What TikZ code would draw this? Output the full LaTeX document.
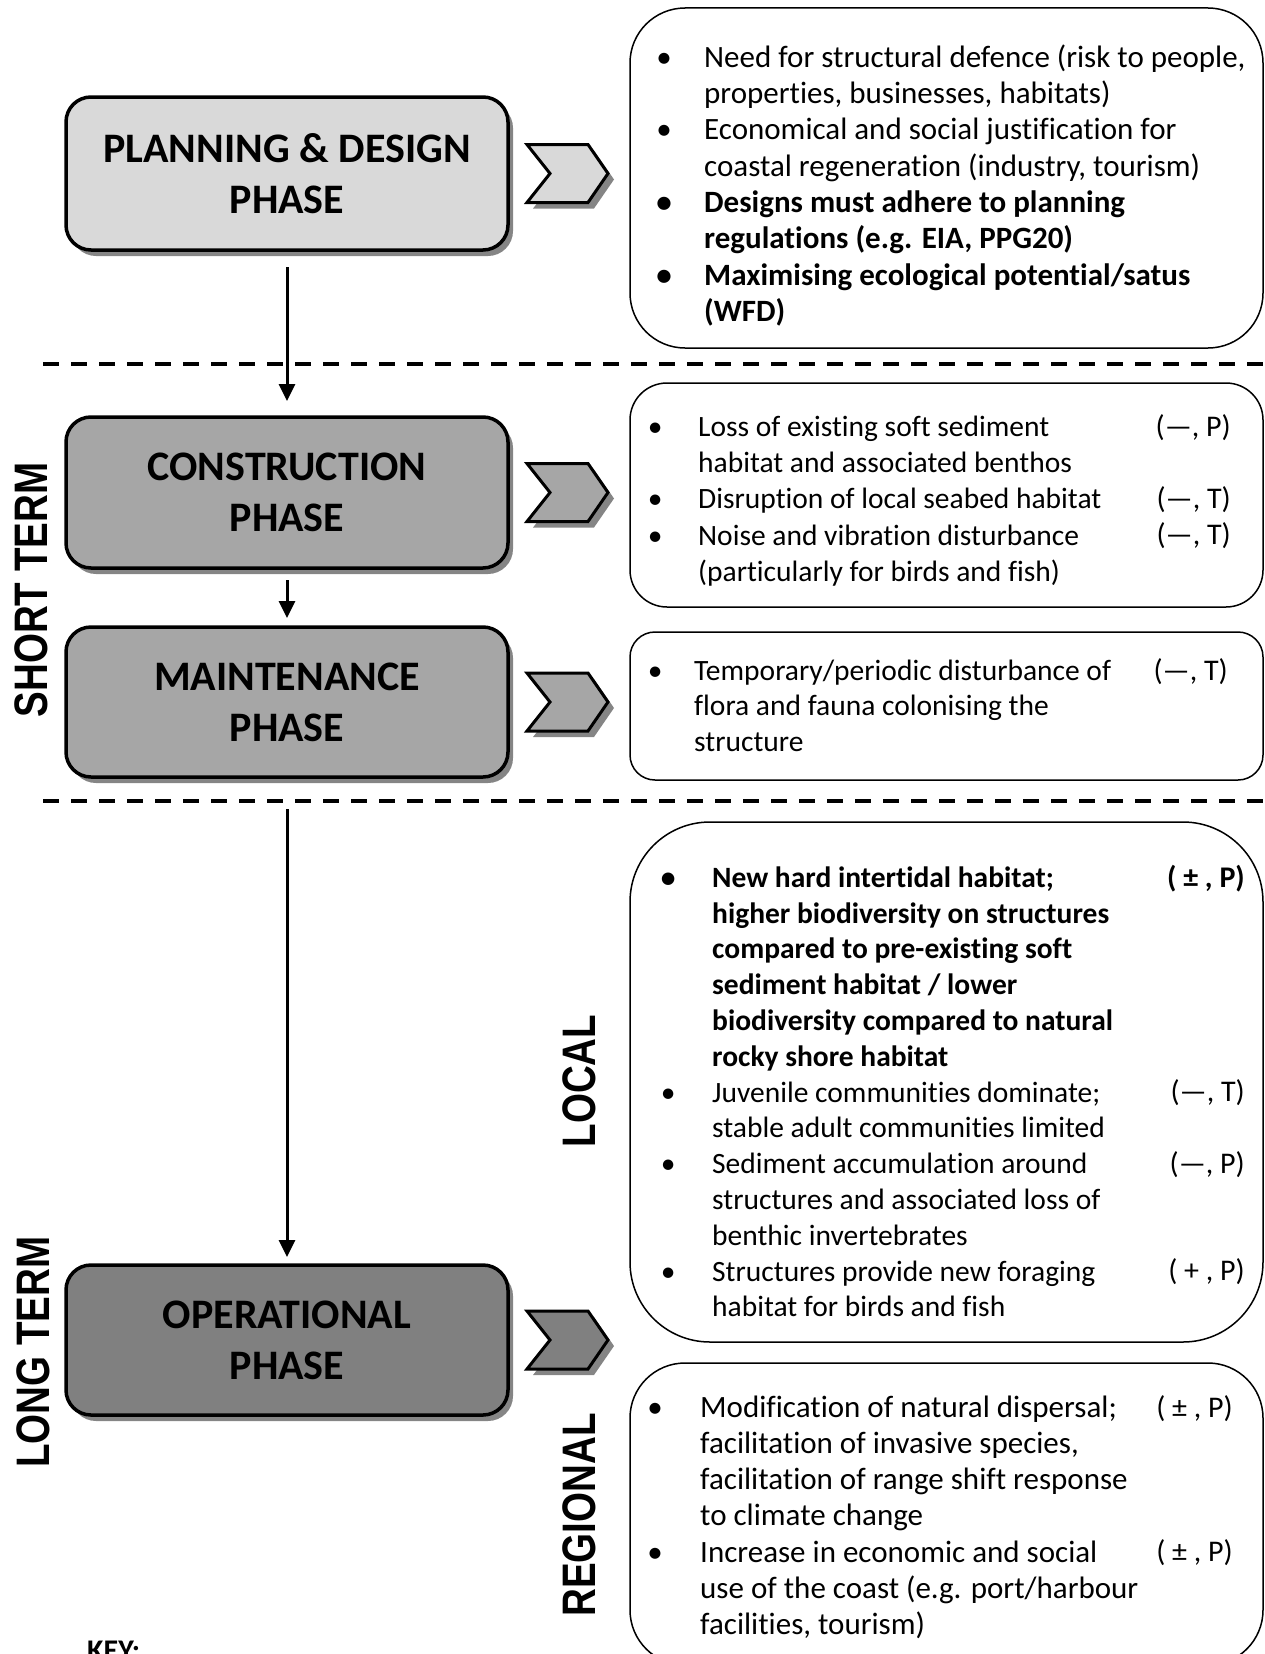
\documentclass[tikz,border=0pt]{standalone}
\usepackage{graphicx}
\usepackage{fontspec}
\setmainfont{Carlito}[Ligatures=CommonOff]
\newfontfamily\vlabfont{Liberation Sans}
\usetikzlibrary{shadows,arrows.meta}

\definecolor{planfill}{HTML}{D9D9D9}
\definecolor{midfill}{HTML}{A6A6A6}
\definecolor{operfill}{HTML}{808080}
\definecolor{shadowgray}{HTML}{858585}

% first-line strut: fixes the distance from a list's top edge to its first baseline
\newcommand\fs{\rule{0pt}{26pt}}
% bullet hung to the left of the item text, centred #1/2 before it
\newcommand\bul[1]{\llap{\makebox[#1][c]{•}}}
\newcommand\vtext[1]{\scalebox{0.82}[1]{#1}}

\tikzset{
  pics/chev/.style={code={
    \fill[shadowgray] (25,-23) -- (86,-23) -- (106,6) -- (86,35) -- (25,35) -- (48,6) -- cycle;
    \filldraw[fill=#1, line width=3pt, line join=miter]
      (19,-29) -- (80,-29) -- (100,0) -- (80,29) -- (19,29) -- (42,0) -- cycle;
  }}
}

\begin{document}
\begin{tikzpicture}[x=1pt,y=-1pt,
  phase/.style={draw, line width=3.5pt, rounded corners=25pt, minimum width=442pt,
    inner sep=0pt, outer sep=0pt, align=center,
    font=\fontsize{42}{51}\selectfont\bfseries,
    drop shadow={shadow xshift=5pt, shadow yshift=-6pt, fill=shadowgray, opacity=1}},
  tbox/.style={draw, line width=1.5pt, inner sep=0pt, outer sep=0pt, minimum width=633pt},
  list/.style={anchor=north west, inner sep=0pt, align=left},
  tag/.style={anchor=base east, inner sep=0pt, font=\fontsize{30}{36}\selectfont},
  vlab/.style={rotate=90, inner sep=0pt, font=\vlabfont\bfseries\fontsize{47}{50}\selectfont},
  arr/.style={line width=3pt, -{Triangle[width=16pt,length=17pt]}},
  sep/.style={line width=4pt, dash pattern=on 16pt off 12pt},
]
\useasboundingbox (0,0) rectangle (1265,1654);

% ---- phase boxes ----
\node[phase, fill=planfill, minimum height=153pt] (plan) at (287,173.5) {PLANNING \& DESIGN\\PHASE};
\node[phase, fill=midfill, minimum height=151pt] (cons) at (287,492.5) {CONSTRUCTION\\PHASE};
\node[phase, fill=midfill, minimum height=150pt] (main) at (287,702) {MAINTENANCE\\PHASE};
\node[phase, fill=operfill, minimum height=150pt] (oper) at (287,1340) {OPERATIONAL\\PHASE};

% ---- chevrons ----
\pic at (plan.east) {chev=planfill};
\pic at (cons.east) {chev=midfill};
\pic at (main.east) {chev=midfill};
\pic at (oper.east) {chev=operfill};

% ---- flow arrows ----
\draw[arr, shorten <=17pt, shorten >=16pt] (plan.south) -- (cons.north);
\draw[arr, shorten <=12pt, shorten >=9pt] (cons.south) -- (main.north);
\draw[arr, shorten <=32pt, shorten >=8pt] (main.south) -- (oper.north);

% ---- period separators ----
\coordinate (s1a) at (43,364);  \coordinate (s1b) at (1270,364);
\coordinate (s2a) at (43,801);  \coordinate (s2b) at (1270,801);
\draw[sep] (s1a) -- (s1b);
\draw[sep] (s2a) -- (s2b);

% ---- side labels ----
\node[vlab] (short) at (31,590) {\vtext{SHORT TERM}};
\node[vlab] (long) at (33,1352) {\vtext{LONG TERM}};
\node[vlab] (local) at (579,1081) {\vtext{LOCAL}};
\node[vlab] (regional) at (579,1515) {\vtext{REGIONAL}};

% ---- impact boxes ----
\node[tbox, rounded corners=55pt, minimum height=340pt] (planbox) at (946.5,178) {};
\node[tbox, rounded corners=37pt, minimum height=224pt] (consbox) at (946.5,495) {};
\node[tbox, rounded corners=25pt, minimum height=148pt] (mainbox) at (946.5,706) {};
\node[tbox, rounded corners=80pt, minimum height=520pt] (localbox) at (946.5,1082) {};
\node[tbox, rounded corners=55pt, minimum height=302pt] (regbox) at (946.5,1514) {};

% planning & design
\node[list, font=\fontsize{31}{36.3}\selectfont] (plist) at (704,41) {%
  \fs\bul{80pt}Need for structural defence (risk to people,\\
  properties, businesses, habitats)\\
  \bul{80pt}Economical and social justification for\\
  coastal regeneration (industry, tourism)\\
  {\bfseries\bul{80pt}Designs must adhere to planning}\\
  {\bfseries regulations (e.g. EIA, PPG20)}\\
  {\bfseries\bul{80pt}Maximising ecological potential/satus}\\
  {\bfseries (WFD)}};

% construction
\node[list, font=\fontsize{29.5}{36.3}\selectfont] (clist) at (698,410) {%
  \fs\bul{86pt}Loss of existing soft sediment\\
  habitat and associated benthos\\
  \bul{86pt}Disruption of local seabed habitat\\
  \bul{86pt}Noise and vibration disturbance\\
  (particularly for birds and fish)};
\node[tag] (c1) at (1231,436) {(—, P)};
\node[tag] (c2) at (1231,508.6) {(—, T)};
\node[tag] (c3) at (1231,544.9) {(—, T)};

% maintenance
\node[list, font=\fontsize{29.5}{35.5}\selectfont] (mlist) at (694,654) {%
  \fs\bul{78pt}Temporary/periodic disturbance of\\
  flora and fauna colonising the\\
  structure};
\node[tag] (m1) at (1228,680) {(—, T)};

% operational, local
\node[list, font=\fontsize{29.5}{35.8}\selectfont] (llist) at (712,861) {%
  {\bfseries\fs\bul{88pt}New hard intertidal habitat;}\\
  {\bfseries higher biodiversity on structures}\\
  {\bfseries compared to pre-existing soft}\\
  {\bfseries sediment habitat / lower}\\
  {\bfseries biodiversity compared to natural}\\
  {\bfseries rocky shore habitat}\\
  {\mdseries\bul{88pt}Juvenile communities dominate;}\\
  {\mdseries stable adult communities limited}\\
  {\mdseries\bul{88pt}Sediment accumulation around}\\
  {\mdseries structures and associated loss of}\\
  {\mdseries benthic invertebrates}\\
  {\mdseries\bul{88pt}Structures provide new foraging}\\
  {\mdseries habitat for birds and fish}};
\node[tag, font=\fontsize{30}{36}\selectfont\bfseries] (l1) at (1245,887) {( ± , P)};
\node[tag] (l2) at (1245,1101.8) {(—, T)};
\node[tag] (l3) at (1245,1173.4) {(—, P)};
\node[tag] (l4) at (1245,1280.8) {( + , P)};

% operational, regional
\node[list, font=\fontsize{31}{36.2}\selectfont] (rlist) at (700,1391) {%
  \fs\bul{90pt}Modification of natural dispersal;\\
  facilitation of invasive species,\\
  facilitation of range shift response\\
  to climate change\\
  \bul{90pt}Increase in economic and social\\
  use of the coast (e.g. port/harbour\\
  facilities, tourism)};
\node[tag] (r1) at (1233,1417) {( ± , P)};
\node[tag] (r2) at (1233,1561.8) {( ± , P)};

% key heading
\node[anchor=base west, inner sep=0pt, font=\fontsize{30}{36}\selectfont\bfseries] (key) at (87,1660) {KEY:};
\end{tikzpicture}
\end{document}
